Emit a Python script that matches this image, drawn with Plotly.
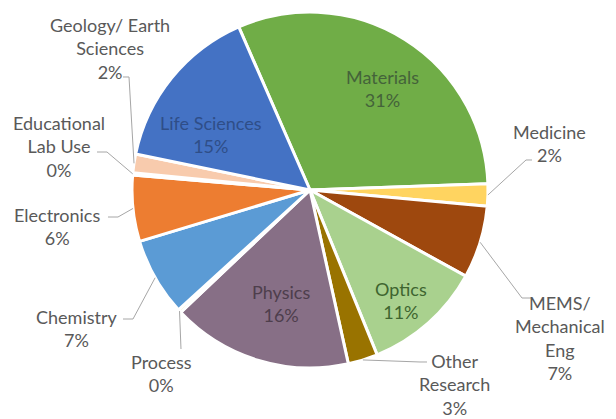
import math
import plotly.graph_objects as go

# Research areas, clockwise from the top of the pie
categories = [
    "Materials", "Medicine", "MEMS/ Mechanical Eng", "Optics", "Other Research",
    "Physics", "Process", "Chemistry", "Electronics", "Educational Lab Use",
    "Geology/ Earth Sciences", "Life Sciences",
]
shares = [31.0, 2.0, 6.6, 10.8, 2.7, 16.4, 0.3, 7.1, 6.0, 0.2, 1.7, 15.2]
colors = [
    "#70AD47", "#FFD460", "#9E480E", "#A9D18E", "#997300",
    "#876F86", "#FFE699", "#5B9BD5", "#ED7D31", "#D9D9D9",
    "#F8CBAD", "#4472C4",
]
# Label text as drawn (line breaks)
label_lines = [
    "Materials", "Medicine", "MEMS/<br>Mechanical<br>Eng", "Optics", "Other<br>Research",
    "Physics", "Process", "Chemistry", "Electronics", "Educational<br>Lab Use",
    "Geology/ Earth<br>Sciences", "Life Sciences",
]

W, H = 616, 419
CX, CY, R = 310, 190, 178      # pie centre and radius in pixels
ROTATION = -23.6               # start angle of the first slice (deg, clockwise from 12 o'clock)

def px(x):
    return x / W

def py(y):
    return 1 - y / H

total = sum(shares)
pct = [f"{round(v / total * 100)}%" for v in shares]

# mid angle of each slice, clockwise from 12 o'clock
mid_angles = []
acc = ROTATION
for v in shares:
    span = v / total * 360
    mid_angles.append(acc + span / 2)
    acc += span

def edge_point(i, extra=0):
    a = math.radians(mid_angles[i])
    return CX + (R + extra) * math.sin(a), CY - (R + extra) * math.cos(a)

# label placement: centre of text block (px), text colour, leader elbow points (px) or None
label_style = {
    "Materials": ((382, 88), "#44633A", None),
    "Medicine": ((549, 143), "#595959", [(532, 160), (526, 160)]),
    "MEMS/ Mechanical Eng": ((560, 338), "#595959", [(531, 298), (522, 298)]),
    "Optics": ((401, 300), "#3E6530", None),
    "Other Research": ((454, 384), "#595959", [(427, 362), (420, 362)]),
    "Physics": ((281, 303), "#4E3E4C", None),
    "Process": ((161, 373), "#595959", [(181, 349)]),
    "Chemistry": ((76, 328), "#595959", [(123, 319), (133, 319)]),
    "Electronics": ((57, 226), "#595959", [(108, 217), (118, 217)]),
    "Educational Lab Use": ((59, 146), "#595959", [(97, 152), (107, 152)]),
    "Geology/ Earth Sciences": ((110, 48), "#595959", [(123, 77), (129, 77)]),
    "Life Sciences": ((211, 134), "#2F4E88", None),
}

fig = go.Figure(
    go.Pie(
        labels=categories,
        values=shares,
        sort=False,
        direction="clockwise",
        rotation=ROTATION,
        marker=dict(colors=colors, line=dict(color="white", width=3)),
        textinfo="none",
        hoverinfo="label+percent",
        showlegend=False,
        domain=dict(x=[px(CX - R), px(CX + R)], y=[py(CY + R), py(CY - R)]),
    )
)

annotations = []
shapes = []
for i, name in enumerate(categories):
    (tx, ty), tcolor, elbow = label_style[name]
    annotations.append(dict(
        x=px(tx), y=py(ty), xref="paper", yref="paper",
        text=f"{label_lines[i]}<br>{pct[i]}",
        showarrow=False, xanchor="center", yanchor="middle", align="center",
        font=dict(family="Lato, 'Open Sans', sans-serif", size=18, color=tcolor),
    ))
    if elbow:
        pts = list(elbow) + [edge_point(i)]
        path = "M " + " L ".join(f"{px(x):.5f},{py(y):.5f}" for x, y in pts)
        shapes.append(dict(type="path", path=path, xref="paper", yref="paper",
                           line=dict(color="#A6A6A6", width=1)))

fig.update_layout(
    width=W, height=H,
    margin=dict(l=0, r=0, t=0, b=0),
    paper_bgcolor="white",
    plot_bgcolor="white",
    annotations=annotations,
    shapes=shapes,
)

fig.write_html("out.html")
